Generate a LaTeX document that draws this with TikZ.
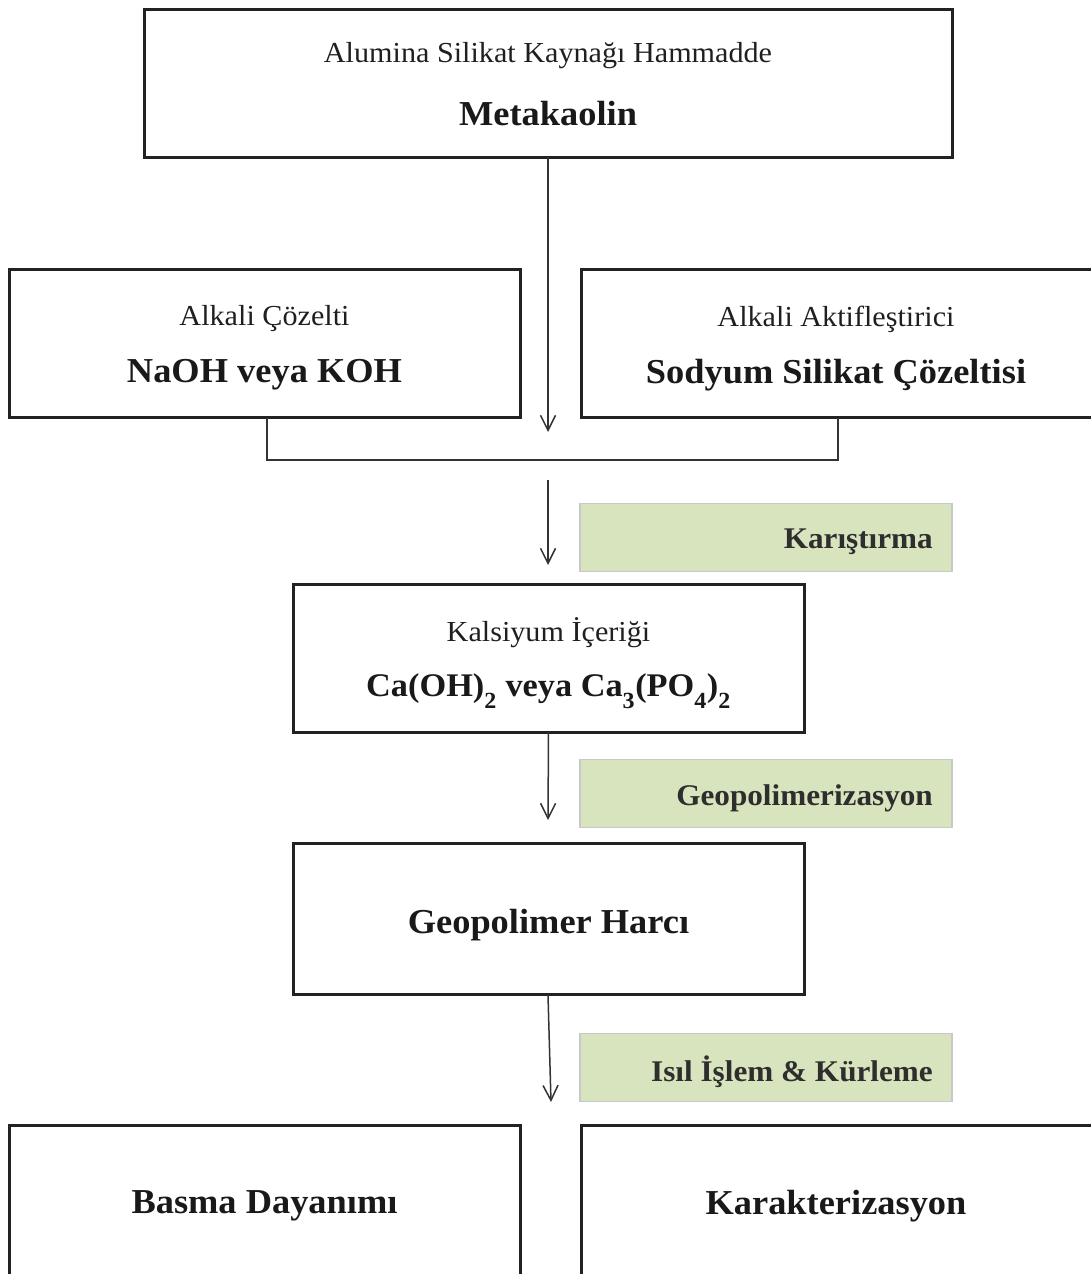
\documentclass[tikz,border=0pt]{standalone}
\usepackage{fontspec}
\setmainfont{Liberation Serif}[FakeStretch=1.04]
\usetikzlibrary{arrows.meta}
\definecolor{boxline}{HTML}{222222}
\definecolor{stepfill}{HTML}{D7E4BD}
\definecolor{stepline}{HTML}{C8C8C8}
\definecolor{linkline}{HTML}{333333}
% chemical index, set a little lower than the default subscript
\newcommand\chemidx[1]{\raisebox{-0.35ex}{\textsubscript{#1}}}
\begin{document}
\begin{tikzpicture}[x=1pt,y=-1pt,
  mainbox/.style={draw=boxline,line width=3pt,outer sep=0pt,inner sep=0pt},
  stagebox/.style={fill=stepfill,draw=stepline,line width=1.5pt,outer sep=0pt,inner sep=0pt,
    minimum width=372pt,minimum height=68pt},
  small/.style={font=\fontsize{29}{34}\selectfont,text=black!88,inner sep=0pt},
  big/.style={font=\bfseries\fontsize{35}{40}\selectfont,text=black!90,inner sep=0pt},
  stagelabel/.style={font=\bfseries\fontsize{30}{35}\selectfont,text=black!82,anchor=east,inner sep=0pt},
  link/.style={draw=linkline,line width=1.5pt},
  flow/.style={link,-{Straight Barb[length=15pt,width=15pt,line width=1.5pt]}}]
\useasboundingbox (0,0) rectangle (1091,1274);
\clip (0,0) rectangle (1091,1274);

% main process boxes
\node[mainbox,minimum width=808pt,minimum height=148pt] (raw) at (548,83) {};
\node[mainbox,minimum width=511pt,minimum height=148pt] (alk) at (264.5,343) {};
\node[mainbox,minimum width=519pt,minimum height=148pt] (act) at (840.75,343) {};
\node[mainbox,minimum width=511pt,minimum height=148pt] (calc) at (548.5,658) {};
\node[mainbox,minimum width=511pt,minimum height=151pt] (mortar) at (548.5,918.5) {};
\node[mainbox,minimum width=511pt,minimum height=163pt] (comp) at (264.5,1207) {};
\node[mainbox,minimum width=519pt,minimum height=163pt] (charac) at (840.75,1207) {};

% process step labels
\node[stagebox] (mixbox) at (766,537.5) {};
\node[stagebox] (geobox) at (766,793.5) {};
\node[stagebox] (curebox) at (766,1067.5) {};

% box texts
\node[small] (rawa) at (548,56) {Alumina Silikat Kaynağı Hammadde};
\node[big] (rawb) at (548,114) {Metakaolin};
\node[small] (alka) at (264.5,319) {Alkali Çözelti};
\node[big] (alkb) at (264.5,375) {NaOH veya KOH};
\node[small] (acta) at (836,319) {Alkali Aktifleştirici};
\node[big] (actb) at (836,375) {Sodyum Silikat Çözeltisi};
\node[small] (calca) at (548.5,633) {Kalsiyum İçeriği};
\node[big,font=\bfseries\fontsize{33}{38}\selectfont] (calcb) at (548.5,691)
  {Ca(OH)\chemidx{2} veya Ca\chemidx{3}(PO\chemidx{4})\chemidx{2}};
\node[big] (mortart) at (548.5,925) {Geopolimer Harcı};
\node[big] (compt) at (264.5,1206) {Basma Dayanımı};
\node[big] (charact) at (836,1206) {Karakterizasyon};

\node[stagelabel] (mixt) at (933,542) {Karıştırma};
\node[stagelabel] (geot) at (933,798) {Geopolimerizasyon};
\node[stagelabel] (curet) at (933,1072) {Isıl İşlem \& Kürleme};

% connectors
\coordinate (rawend) at (548,432);
\coordinate (alkfoot) at (267,418);
\coordinate (actfoot) at (838,418);
\coordinate (mixstart) at (548,480);
\coordinate (mixend) at (548,565);
\coordinate (geoend) at (548,820);
\coordinate (mortarfoot) at (548,995);
\coordinate (cureend) at (551,1102);

\draw[flow] (raw.south) -- (rawend);
\draw[link] (alkfoot) -- (267,460) -- (838,460) -- (actfoot);
\draw[flow] (mixstart) -- (mixend);
\draw[flow] (calc.south) -- (geoend);
\draw[flow] (mortarfoot) -- (cureend);
\end{tikzpicture}
\end{document}
